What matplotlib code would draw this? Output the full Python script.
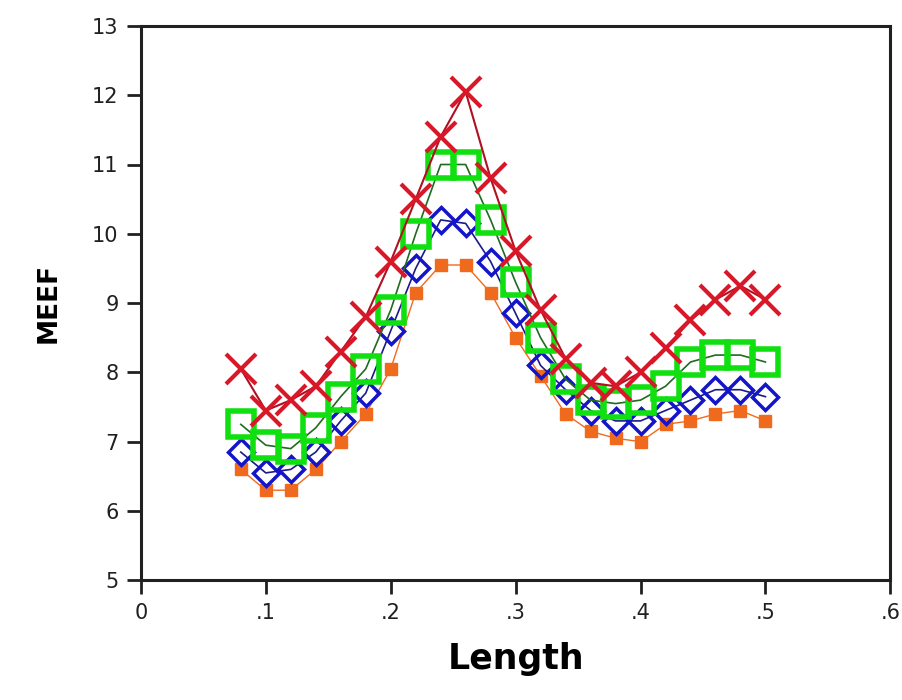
import matplotlib
matplotlib.use("Agg")
import matplotlib.pyplot as plt

length = [0.08, 0.10, 0.12, 0.14, 0.16, 0.18, 0.20, 0.22, 0.24, 0.26, 0.28,
          0.30, 0.32, 0.34, 0.36, 0.38, 0.40, 0.42, 0.44, 0.46, 0.48, 0.50]
red_x = [8.05, 7.45, 7.6, 7.8, 8.3, 8.8, 9.6, 10.5, 11.4, 12.05, 10.8,
         9.75, 8.9, 8.2, 7.85, 7.8, 8.0, 8.35, 8.75, 9.05, 9.25, 9.05]
green_sq = [7.25, 6.95, 6.9, 7.2, 7.65, 8.05, 8.9, 10.0, 11.0, 11.0, 10.2,
            9.3, 8.5, 7.9, 7.6, 7.55, 7.6, 7.8, 8.15, 8.25, 8.25, 8.15]
blue_dia = [6.85, 6.55, 6.6, 6.85, 7.3, 7.7, 8.6, 9.5, 10.2, 10.15, 9.6,
            8.85, 8.1, 7.75, 7.45, 7.3, 7.3, 7.45, 7.6, 7.75, 7.75, 7.65]
orange_sq = [6.6, 6.3, 6.3, 6.6, 7.0, 7.4, 8.05, 9.15, 9.55, 9.55, 9.15,
             8.5, 7.95, 7.4, 7.15, 7.05, 7.0, 7.25, 7.3, 7.4, 7.45, 7.3]

xticks = [0, 0.1, 0.2, 0.3, 0.4, 0.5, 0.6]
xticklabels = ["0", ".1", ".2", ".3", ".4", ".5", ".6"]
yticks = [5, 6, 7, 8, 9, 10, 11, 12, 13]

fig = plt.figure(figsize=(9.03, 7.0), dpi=100)
ax = fig.add_axes([0.156, 0.171, 0.830, 0.792])

ax.plot(length, orange_sq, color="#f06a1e", lw=1.0, marker="s", ms=8,
        mfc="#f06a1e", mec="#f06a1e", zorder=2)
ax.plot(length, blue_dia, color="#1a1a8c", lw=1.2, marker="D", ms=13,
        mfc="none", mec="#1414c8", mew=2.5, zorder=3)
ax.plot(length, green_sq, color="#1f6b1f", lw=1.2, marker="s", ms=19,
        mfc="none", mec="#10e010", mew=4, zorder=4)
ax.plot(length, red_x, color="#b01020", lw=1.5, marker="x", ms=22,
        mec="#d81828", mew=3, zorder=5)

ax.set_xlim(0, 0.6)
ax.set_ylim(5, 13)
ax.set_xticks(xticks)
ax.set_xticklabels(xticklabels)
ax.set_yticks(yticks)

for s in ax.spines.values():
    s.set_linewidth(2.2)
    s.set_color("#202020")

ax.tick_params(direction="out", length=10, width=2, labelsize=15, pad=6,
               colors="#202020")
for lab in ax.get_xticklabels() + ax.get_yticklabels():
    lab.set_fontfamily("DejaVu Sans")

ax.set_xlabel("Length", fontsize=25, fontweight="bold", labelpad=14)
ax.set_ylabel("MEEF", fontsize=19, fontweight="bold", labelpad=22)

fig.savefig("out.png", dpi=100)
